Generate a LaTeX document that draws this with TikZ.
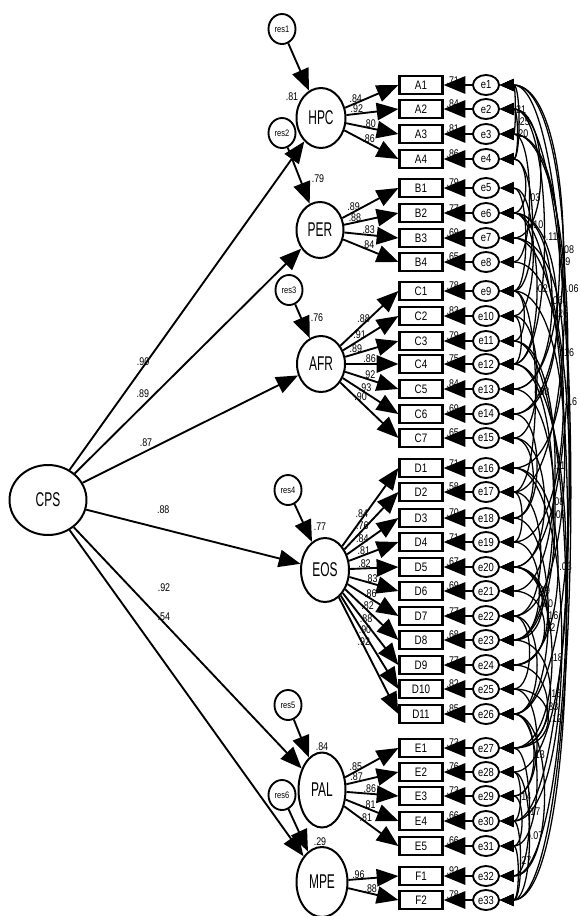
\documentclass[tikz,border=0pt]{standalone}
\usepackage{fontspec}
\setmainfont{Liberation Sans}[FakeStretch=0.8]
\newfontfamily\latfont{Liberation Sans}[FakeStretch=0.6]
\usetikzlibrary{shapes.geometric,arrows.meta,calc}
\tikzset{
	latent/.style = {draw, ellipse, line width=1.7pt, inner sep=0pt,
		font=\fontsize{17}{17}\selectfont\latfont},
	resnode/.style = {draw, ellipse, line width=1.6pt, inner sep=0pt,
		minimum width=0.81cm, minimum height=0.9cm, font=\fontsize{8}{8}\selectfont},
	errnode/.style = {draw, ellipse, line width=1.6pt, inner sep=0pt,
		minimum width=0.78cm, minimum height=0.6cm, font=\fontsize{10}{10}\selectfont},
	obsnode/.style = {draw, rectangle, line width=1.9pt, inner sep=0pt,
		minimum width=1.29cm, minimum height=0.54cm, font=\fontsize{10.5}{10.5}\selectfont},
	arr/.style = {draw, line width=1.6pt, -{Triangle[length=6.5mm,width=5.2mm]}},
	cov/.style = {draw, line width=1.1pt, {Triangle[length=4.2mm,width=3.6mm]}-{Triangle[length=4.2mm,width=3.6mm]}},
	lbl/.style = {inner sep=1pt, font=\fontsize{9.5}{9.5}\selectfont},
}

\begin{document}
\begin{tikzpicture}[x=0.03cm, y=-0.03cm]
	\useasboundingbox (0,0) rectangle (579,916);
	%Nodes
	\node[latent, minimum width=2.31cm, minimum height=2.1cm]  (CPS) at (48,500)  {CPS};
	\node[latent, minimum width=1.47cm, minimum height=1.8cm]  (HPC) at (321,118) {HPC};
	\node[latent, minimum width=1.41cm, minimum height=1.68cm] (PER) at (320,230) {PER};
	\node[latent, minimum width=1.44cm, minimum height=1.68cm] (AFR) at (321,364) {AFR};
	\node[latent, minimum width=1.44cm, minimum height=1.92cm] (EOS) at (325,570) {EOS};
	\node[latent, minimum width=1.41cm, minimum height=2.25cm] (PAL) at (322,790) {PAL};
	\node[latent, minimum width=1.53cm, minimum height=2.1cm]  (MPE) at (322,882) {MPE};
	\node[resnode] (res1) at (282,29)  {res1};
	\node[resnode] (res2) at (282,133) {res2};
	\node[resnode] (res3) at (289,290) {res3};
	\node[resnode] (res4) at (288,490) {res4};
	\node[resnode] (res5) at (288,705) {res5};
	\node[resnode] (res6) at (282,795) {res6};
	\node[lbl] (r2HPC) at (292,97)  {.81};
	\node[lbl] (r2PER) at (318,179) {.79};
	\node[lbl] (r2AFR) at (317,318) {.76};
	\node[lbl] (r2EOS) at (320,527) {.77};
	\node[lbl] (r2PAL) at (322,747) {.84};
	\node[lbl] (r2MPE) at (320,842) {.29};
	%Indicators and errors
	\foreach \ind/\ypos/\rsq [count=\num] in {A1/85/.71, A2/109/.84, A3/134/.81, A4/159/.86,
		B1/188/.79, B2/213/.77, B3/238/.69, B4/262/.65,
		C1/291/.78, C2/316/.83, C3/341/.79, C4/364/.75, C5/389/.84, C6/414/.69, C7/438/.65,
		D1/468/.71, D2/492/.58, D3/518/.70, D4/542/.71, D5/567/.67, D6/591/.69,
		D7/616/.77, D8/640/.68, D9/665/.77, D10/689/.82, D11/714/.85,
		E1/748/.73, E2/772/.76, E3/796/.73, E4/821/.66, E5/846/.66,
		F1/876/.92, F2/900/.78}{
		\node[obsnode] (\ind) at (421,\ypos) {\ind};
		\node[errnode] (e\num) at (486,\ypos) {e\num};
		\draw[arr] (e\num) -- (\ind) node[lbl, pos=.68, above=-1pt] {\rsq};
	}
	%Lines
	\draw[arr] (CPS) -- (HPC) node[lbl, pos=.33, xshift=-0.12cm] {.90};
	\draw[arr] (CPS) -- (PER) node[lbl, pos=.354, xshift=-0.36cm] {.89};
	\draw[arr] (CPS) -- (AFR) node[lbl, pos=.294, yshift=0.27cm] {.87};
	\draw[arr] (CPS) -- (EOS) node[lbl, pos=.36, yshift=0.57cm] {.88};
	\draw[arr] (CPS) -- (PAL) node[lbl, pos=.251, xshift=0.99cm] {.92};
	\draw[arr] (CPS) -- (MPE) node[lbl, pos=.266, xshift=0.96cm] {.54};
	\draw[arr] (res1) -- (HPC);
	\draw[arr] (res2) -- (PER);
	\draw[arr] (res3) -- (AFR);
	\draw[arr] (res4) -- (EOS);
	\draw[arr] (res5) -- (PAL);
	\draw[arr] (res6) -- (MPE);
	\foreach \ind/\ld/\p in {A1/.84/.2, A2/.92/.2, A3/.80/.45, A4/.86/.45}
		\draw[arr] (HPC) -- (\ind.west) node[lbl, pos=\p, above=-1pt] {\ld};
	\foreach \ind/\ld/\p in {B1/.89/.2, B2/.88/.2, B3/.83/.45, B4/.84/.45}
		\draw[arr] (PER) -- (\ind.west) node[lbl, pos=\p, above=-1pt] {\ld};
	\foreach \ind/\ld/\p in {C1/.88/.4, C2/.91/.3, C3/.89/.2, C4/.86/.45, C5/.92/.45, C6/.93/.4, C7/.90/.35}
		\draw[arr] (AFR) -- (\ind.west) node[lbl, pos=\p, above=-1pt] {\ld};
	\foreach \ind/\ld/\p in {D1/.84/.35, D2/.76/.33, D3/.84/.3, D4/.81/.3, D5/.82/.3, D6/.83/.45,
		D7/.86/.45, D8/.82/.42, D9/.88/.42, D10/.90/.42, D11/.92/.42}
		\draw[arr] (EOS) -- (\ind.west) node[lbl, pos=\p, above=-1pt] {\ld};
	\foreach \ind/\ld/\p in {E1/.85/.2, E2/.87/.2, E3/.86/.45, E4/.81/.45, E5/.81/.4}
		\draw[arr] (PAL) -- (\ind.west) node[lbl, pos=\p, above=-1pt] {\ld};
	\foreach \ind/\ld/\p in {F1/.96/.2, F2/.88/.45}
		\draw[arr] (MPE) -- (\ind.west) node[lbl, pos=\p, above=-1pt] {\ld};
	%Covariances
	\foreach \a/\b/\d in {5/10/40, 10/15/45, 15/18/40, 17/22/50, 18/26/60, 22/26/45, 31/33/20,
		5/9/30, 9/11/28, 26/31/45, 2/7/50, 4/6/30, 10/12/24, 14/18/45, 15/20/55, 17/19/25,
		22/25/35, 25/29/45, 26/32/55, 29/31/25, 1/33/90, 2/30/88, 6/32/86, 11/33/84,
		3/20/86, 7/26/88, 12/28/84, 9/22/82, 16/30/78}
		\draw[cov] (e\a.east) .. controls +(\d,0) and +(\d,0) .. (e\b.east);
	\foreach \a/\b/\d/\w in {1/3/16/.21, 1/4/21/.25, 2/4/19/.20, 3/8/35/.03, 4/9/39/.10,
		2/12/55/-.11, 1/14/80/.08, 3/13/75/.09, 1/17/82/-.06, 6/14/72/.26, 7/16/80/.16,
		8/19/80/-.16, 11/21/69/.11, 12/23/67/.08, 13/23/69/.09, 16/24/73/-.03, 19/23/48/.09,
		20/24/59/.16, 21/24/55/.22, 20/27/65/.18, 23/27/63/.15, 24/27/59/.33, 25/27/60/-.12,
		26/29/41/.13, 28/30/23/.14, 27/32/35/.17, 28/33/35/-.07, 30/33/23/.27,
		6/12/45/.02, 6/13/65/.06, 9/17/43/-.08, 20/23/52/.00}
		\draw[cov] (e\a.east) .. controls +(\d,0) and +(\d,0) .. (e\b.east)
			node[lbl, pos=.5, right=0pt] {\w};
\end{tikzpicture}
\end{document}
